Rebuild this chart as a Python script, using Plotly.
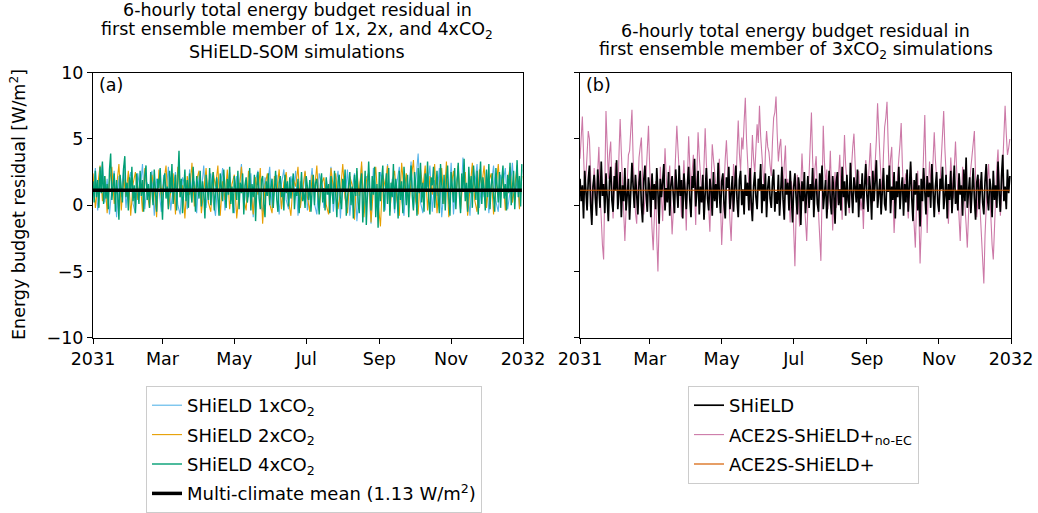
import pandas as pd
import plotly.graph_objects as go

# ---------------- data ----------------
# 6-hourly residuals, shown here on daily (green, black, pink) and 2-day (blue, orange) sampling [W/m2]
shield_4xco2 = [
    1.8, 0.2, 2.6, 0.6, 1.9, -0.2, 2.9, 0.9, 3.3, 0.1,
    2.2, 0.5, 1.6, -0.3, 2.7, 3.9, 0.4, 1.2, 2.4, -0.5,
    1.9, 0.8, -1.1, 2.3, 1.4, 0.2, 2.8, 3.7, 0.6, 1.7,
    -0.4, 2.1, 1.0, 2.9, 0.3, 1.5, -0.6, 2.4, 1.2, 0.1,
    2.6, 0.7, 1.9, -0.5, 2.2, 3.0, 0.4, 1.6, -0.2, 2.5,
    1.1, 0.0, 2.7, 0.8, -0.5, 2.0, 1.3, 2.8, 0.2, -1.1,
    1.8, 2.4, 0.5, 1.4, -0.3, 2.6, 0.9, 3.1, 0.1, 1.7,
    2.3, -0.4, 1.5, 4.1, 0.6, 2.0, -0.6, 1.2, 2.7, 0.3,
    1.9, -0.2, 2.4, 1.0, 0.2, 2.9, 0.7, -0.5, 2.2, 1.4,
    0.5, 2.6, -0.1, 1.8, 0.9, -1.0, 2.3, 1.2, 0.4, 2.8,
    0.0, 1.6, 2.5, -0.4, 1.3, 2.1, 0.6, -0.8, 2.4, 1.0,
    0.3, 2.7, 1.5, -0.2, 2.0, 0.8, 2.9, 0.1, 1.4, -0.6,
    2.2, 1.1, 0.4, 2.6, -0.3, 1.7, 0.9, 2.4, -0.7, 1.5,
    2.1, 0.2, 1.0, 2.8, -0.4, 1.6, 0.6, 2.3, -1.2, 1.2,
    2.5, 0.5, -0.3, 1.9, 2.2, 0.1, -0.9, 1.8, 0.7, 2.4,
    0.0, 1.4, 2.0, -0.2, 1.1, 2.6, 0.4, -0.5, 1.7, 2.2,
    0.6, 1.3, -0.4, 2.3, 0.9, 1.8, -0.1, 2.1, 0.5, 1.5,
    2.4, -0.3, 1.2, 0.7, 2.0, -0.6, 1.6, 2.5, 0.3, 1.0,
    -0.2, 2.2, 1.4, 0.4, 1.9, -0.5, 1.1, 2.3, 0.0, 1.7,
    2.0, 0.6, -0.7, 1.5, 2.4, 0.2, 1.3, -0.4, 2.1, 0.8,
    1.6, -0.6, 2.2, 0.9, 0.1, 2.6, 1.2, -0.9, 1.8, 2.3,
    0.4, -0.3, 2.0, 1.1, 2.7, -0.8, 0.6, 1.9, 2.5, 0.0,
    1.4, -1.0, 2.3, 0.7, 2.8, 0.2, -0.6, 1.7, 2.4, -1.3,
    1.0, 2.6, -1.5, 0.5, 3.3, 1.2, -0.4, 2.2, 0.8, 2.9,
    -0.9, 1.6, -1.7, 2.5, 0.3, 1.9, 3.0, -0.5, 1.3, 2.4,
    0.1, 2.8, -0.8, 1.7, 0.6, 3.1, -0.3, 2.0, 1.1, -1.0,
    2.6, 0.4, 1.8, -0.6, 2.9, 1.3, 0.0, 2.3, -0.9, 1.6,
    3.0, 0.7, -0.4, 2.5, 1.4, -0.8, 2.8, 0.9, 3.2, 0.2,
    1.7, -0.5, 2.4, 1.1, 3.3, 0.3, -0.7, 2.1, 1.5, 2.9,
    -0.2, 1.2, 2.6, 0.5, -0.6, 3.1, 1.8, 0.1, 2.3, -0.4,
    1.9, 3.0, 0.6, -0.8, 2.5, 1.3, 0.2, 2.8, -0.3, 1.6,
    3.2, 0.8, -0.6, 2.4, 1.0, 3.5, 0.3, 1.7, -0.5, 2.9,
    0.9, 2.2, -0.2, 3.0, 1.4, 0.4, 2.6, -0.7, 1.8, 3.3,
    0.1, 2.1, 1.2, -0.4, 2.7, 0.6, 3.1, -0.3, 1.5, 2.4,
    0.7, -0.5, 2.8, 1.3, 0.2, 2.5, -0.2, 1.9, 3.0, 0.5,
    1.6, -0.4, 2.3, 0.9, 3.2, 0.0, 1.4, 2.6, -0.3, 1.8,
    3.4, 0.6, 2.2, -0.1, 3.1,
]

shield_2xco2 = [
    2.4, -0.2, 1.5, 3.0, 0.3, 2.2, -0.6, 1.8, 2.9, 0.1,
    1.4, 3.1, -0.4, 2.0, 0.7, 2.6, -0.8, 1.6, 2.5, 0.4,
    1.9, -0.5, 2.8, 0.9, -0.2, 2.3, 1.2, -0.9, 2.7, 0.5,
    1.7, 3.0, -0.3, 1.3, 2.4, -0.7, 2.9, 0.6, 1.5, -1.0,
    2.2, 0.8, 3.2, -0.1, 1.9, 2.6, -0.6, 1.1, 2.8, 0.2,
    -0.5, 2.5, 1.4, 3.0, -0.8, 1.8, 0.4, 2.7, -0.3, 1.6,
    2.3, -1.0, 1.2, 2.9, 0.5, -0.4, 2.6, 1.3, -0.7, 2.1,
    0.8, 2.8, -1.4, 1.5, 2.4, 0.1, -0.6, 2.2, 1.0, 2.7,
    -0.3, 1.7, 2.5, 0.3, -0.8, 2.0, 1.4, 2.9, -0.2, 1.1,
    2.6, 0.6, -0.5, 2.3, 1.2, 3.0, -0.4, 1.6, 2.1, 0.0,
    -0.7, 2.8, 1.3, 2.4, -0.3, 1.0, 3.1, 0.5, -0.6, 2.2,
    1.5, -1.1, 2.6, 0.7, 3.3, -0.9, 1.8, 2.5, -1.3, 1.2,
    2.9, 0.2, -1.6, 2.3, 1.4, 3.0, -0.5, 1.7, 2.6, 0.4,
    -0.8, 3.2, 1.1, 2.4, -0.2, 1.9, 3.4, 0.3, -0.7, 2.7,
    1.3, 3.0, -0.4, 2.2, 0.8, 3.1, -0.6, 1.6, 2.8, 0.1,
    3.3, -0.9, 1.4, 2.6, 0.6, 3.0, -0.3, 1.9, 2.5, -0.8,
    1.2, 3.2, 0.4, -0.5, 2.7, 1.5, 3.0, -0.2, 1.8, 2.4,
    -0.7, 1.0, 3.1, 0.5, 2.3, -0.4, 1.7, 2.9, 0.2, 1.4,
    3.0, -0.3, 2.2,
]

shield_1xco2 = [
    0.9, 2.8, -0.4, 1.6, 3.2, 0.2, 2.0, -0.7, 1.3, 2.6,
    -0.9, 2.2, 0.6, 3.0, -0.2, 1.8, 2.5, 0.1, -0.6, 2.4,
    1.1, 3.1, -0.3, 1.7, 0.4, 2.6, -0.8, 2.0, 1.2, -0.5,
    2.3, 0.8, 2.9, -0.4, 1.4, 2.5, 0.0, -0.7, 2.1, 1.5,
    -0.3, 2.7, 0.9, 1.8, -0.6, 2.3, 1.0, 3.0, -0.2, 1.6,
    2.4, 0.3, -0.8, 2.0, 1.3, 2.8, -0.4, 1.1, 2.5, 0.5,
    -0.6, 2.2, 1.4, 3.1, -0.3, 1.7, 0.6, 2.4, -0.9, 1.9,
    2.6, 0.2, -0.5, 2.1, 1.5, 2.9, -0.2, 1.2, 2.3, -0.7,
    1.6, 2.7, 0.4, -0.3, 2.2, 1.0, 2.6, -0.8, 1.8, 0.7,
    2.5, -0.4, 1.3, 2.8, 0.1, -0.7, 2.4, 1.6, -0.2, 2.0,
    0.8, 2.9, -0.5, 1.4, 2.6, -1.0, 1.9, 0.5, 2.7, -0.8,
    1.2, 2.4, -1.2, 0.9, 3.0, -0.6, 2.2, 1.5, -1.4, 2.8,
    0.6, -0.9, 2.5, 1.8, -0.4, 3.1, 0.3, 2.0, -0.6, 1.7,
    2.9, 0.4, -0.8, 2.3, 1.1, 3.3, -0.3, 1.6, 3.9, 0.2,
    -0.6, 2.6, 1.4, 3.0, -0.5, 1.9, 0.7, 2.8, -0.9, 1.3,
    2.5, 0.1, 3.2, -0.7, 1.7, 2.4, -0.4, 3.6, 0.5, 1.2,
    -0.8, 2.9, 1.5, 3.1, -0.2, 1.8, 0.6, 2.6, -0.6, 1.4,
    3.0, 0.3, -0.5, 2.3, 1.6, 2.8, -0.3, 1.0, 3.2, 0.4,
    1.9, -0.2, 2.7,
]

multi_climate_mean = 1.13

shield_3xco2 = [
    2.0, 0.3, 1.5, -1.0, 2.6, 0.8, -0.4, 1.9, 3.0, 0.1,
    -1.5, 1.4, 2.3, 0.5, -0.8, 2.7, 1.0, -0.2, 3.3, 0.7,
    1.6, -0.6, 2.4, 0.2, -1.2, 1.8, 2.9, 0.4, -0.5, 2.2,
    1.1, 3.4, -0.3, 0.9, 2.5, -0.9, 1.5, 0.3, 2.8, -0.4,
    1.2, 2.0, -1.1, 0.6, 3.2, 1.4, -0.2, 2.3, 0.5, -0.7,
    1.7, 2.6, 0.0, -1.3, 1.9, 3.0, 0.8, -0.5, 2.1, 1.2,
    -0.9, 2.4, 0.4, 1.6, -0.3, 2.8, 1.0, -1.4, 2.0, 0.6,
    1.8, 3.1, -0.4, 1.3, 0.2, 2.5, -0.8, 1.5, 2.2, 0.3,
    -0.6, 2.7, 1.1, -0.2, 3.0, 0.7, 1.9, -1.0, 2.4, 0.9,
    -0.3, 1.6, 2.9, 0.4, -0.9, 2.2, 1.3, 3.5, -0.1, 1.0,
    2.6, -0.7, 1.4, 0.2, 2.3, -1.1, 1.7, 2.8, 0.5, -0.4,
    2.0, 1.2, -0.8, 2.5, 0.3, 1.6, -0.2, 3.2, 0.9, -0.6,
    1.8, 2.4, 0.1, -1.0, 2.1, 1.3, 2.9, -0.3, 0.8, 2.2,
    -0.5, 1.5, 3.0, 0.4, -0.9, 1.9, 2.6, 0.0, 1.2, -0.7,
    2.3, 0.7, 1.7, -0.4, 2.8, 0.2, -1.2, 1.4, 2.5, 0.6,
    -0.3, 2.0, 1.1, 3.1, -0.6, 1.6, 0.3, 2.4, -0.9, 1.3,
    2.2, 0.5, -0.2, 1.8, 2.7, -0.5, 1.0, 0.1, 2.3, -0.8,
    1.5, 2.9, 0.4, -1.1, 2.0, 0.8, 1.7, -0.4, 2.6, 0.2,
    -1.3, 1.4, 2.4, 0.6, -0.7, 2.1, 1.2, -1.5, 1.8, 0.3,
    2.5, -0.6, 1.0, 2.2, -0.2, 1.6, 0.4, 2.8, -0.9, 1.3,
    2.0, 0.1, -0.5, 2.4, 1.1, 3.0, -0.3, 0.7, 1.9, -1.0,
    1.5, 2.6, 0.3, -0.7, 2.2, 0.9, -1.4, 1.7, 2.5, 0.0,
    1.2, -0.4, 2.9, 0.6, 1.8, -0.8, 2.3, 0.4, -0.2, 3.2,
    1.0, -0.6, 2.1, 1.4, 0.2, 2.7, -0.9, 1.6, 0.5, 2.4,
    -0.3, 1.9, 3.1, 0.7, -0.5, 2.2, 1.1, -1.1, 2.6, 0.3,
    1.5, 3.4, -0.2, 0.9, 2.0, -0.7, 1.7, 2.8, 0.1, -0.4,
    2.3, 1.0, 3.0, -0.6, 1.4, 0.4, 2.5, -1.0, 1.8, 0.6,
    2.9, -0.3, 1.2, 2.1, -0.8, 1.6, 0.2, 2.7, -0.5, 1.1,
    3.3, 0.5, -1.2, 1.9, 0.8, 2.4, -0.4, 1.5, -1.6, 2.0,
    0.3, 2.8, 1.0, -0.7, 2.2, 0.6, 1.7, -0.2, 3.1, 0.9,
    -0.9, 1.4, 2.5, 0.2, -0.5, 2.0, 1.2, 2.9, -0.3, 0.7,
    2.3, -1.0, 1.6, 0.4, 2.6, -0.6, 1.9, 3.0, 0.1, 1.1,
    -0.4, 2.4, 0.8, 1.5, -0.8, 2.7, 0.3, 3.6, -0.2, 1.3,
    2.1, -0.6, 1.0, 2.8, 0.5, -1.1, 1.7, 2.3, -0.3, 0.9,
    2.5, 0.2, -0.7, 1.8, 3.1, 0.6, -0.4, 2.0, 1.2, -0.9,
    2.6, 0.4, 1.5, -0.2, 3.3, 0.8, -0.5, 2.2, 3.8, 0.3,
    1.4, -0.3, 2.7, 0.9, 2.2,
]

ace2s_no_ec = [
    3.5, 5.2, 6.7, 3.9, 1.2, 2.1, 4.0, 5.6, 5.0, 2.3, -0.5, 0.9, 2.8, 1.4, 0.3, 2.6, 4.4, 1.0, -1.8, -3.0,
    -4.1, 2.2, 7.1, 4.6, 2.0, 3.9, 4.8, 1.7, -1.0, 1.5, 3.2, 2.2, 0.6, 3.8, 6.5, 4.0, 1.5, -0.8, -2.7, -0.4,
    2.4, 3.8, 4.1, 5.3, 7.2, 3.5, 0.8, -0.6, -1.4, 1.3, 3.6, 4.4, 5.1, 2.0, -0.7, 0.5, 2.2, 4.5, 6.0, 2.9,
    0.1, -1.8, -3.4, -0.9, 1.8, -2.4, -5.0, -1.3, 2.9, 0.7, -1.2, 1.6, 4.3, 2.2, 0.5, 1.9, 3.0, 0.2, -2.2, -0.5,
    1.6, 3.9, 6.0, 4.2, 2.5, 0.6, -0.9, 1.4, 3.4, 0.9, -1.9, 2.0, 5.2, 3.0, 1.0, 2.5, 3.8, 1.1, -1.5, 2.4,
    5.5, 3.7, 2.1, 1.0, 0.2, 3.1, 5.8, 3.2, 1.4, -0.5, -2.0, 1.5, 4.6, 3.5, 2.7, 1.6, 0.4, 2.0, 3.5, 0.1,
    -3.0, -0.8, 1.9, 3.5, 4.9, 2.6, 0.7, -1.2, -2.7, 0.5, 3.1, 2.0, 1.3, 4.0, 6.4, 3.9, 2.6, 5.1, 4.2, 6.3,
    8.1, 5.0, 3.0, 1.1, -0.4, 2.6, 5.3, 3.5, 2.4, 4.3, 6.1, 4.7, 7.5, 5.2, 3.7, 2.2, 1.2, 3.9, 5.6, 4.4,
    4.0, 3.0, 2.2, 4.8, 6.6, 7.0, 8.2, 5.4, 3.3, 4.4, 5.0, 2.8, 1.0, 3.1, 4.5, 0.9, 2.0, 0.6, -1.3, 1.8,
    0.9, -1.9, -4.6, -0.8, 2.3, 0.2, -1.6, 1.4, 3.9, 1.8, 0.4, -0.9, -2.7, 0.0, 2.1, 4.3, 7.0, 3.5, 1.1, 2.8,
    3.7, 1.2, -0.8, -2.5, -4.2, 0.9, 6.0, 3.3, 1.6, 2.7, -0.3, 1.8, 4.1, 1.0, -1.9, 0.8, 2.5, -0.2, 0.6, 2.3,
    3.8, 1.0, -1.1, 2.4, 5.3, 3.0, 1.7, 0.3, -0.6, 1.5, 3.2, 4.4, 5.4, 2.7, 0.9, 1.9, 2.6, 0.8, -0.4, 0.6,
    -1.8, 1.2, 3.4, 2.3, 1.5, 3.1, 4.7, 2.0, 0.2, 1.4, 2.9, 5.0, 7.7, 4.9, 3.6, 1.9, 0.8, 3.8, 5.9, 6.6,
    7.8, 4.6, 2.0, 3.5, 4.4, 0.8, -2.1, -0.3, 1.3, 2.7, 3.5, 4.6, 6.2, 3.1, 0.7, 1.8, 2.4, 0.5, -1.0, 1.2,
    3.0, 1.9, 0.4, -1.3, -3.2, 0.1, 2.6, -0.7, -4.4, -1.6, 1.1, 3.9, 6.8, 2.4, -2.1, 0.9, 3.3, 2.0, 0.9, 3.4,
    5.5, 3.4, 1.8, 0.2, -0.7, 1.8, 4.0, 5.5, 7.1, 4.3, 2.3, 0.6, -1.4, 1.2, 3.6, 2.0, 0.5, 2.9, 4.8, 2.6,
    1.2, -0.9, -2.7, 0.4, 2.9, 1.5, 0.3, -1.5, -3.2, -0.6, 1.7, 2.8, 3.9, 4.7, 5.6, 2.1, -0.9, 0.4, 2.0, -0.6,
    -2.4, -3.8, -5.9, -2.3, 0.6, 1.9, 3.1, 0.7, -1.5, -3.0, -4.1, -1.2, 1.4, 2.9, 4.2, 1.6, -0.8, 0.8, 2.7, 4.6,
    7.5, 5.4, 3.8, 4.3, 5.0,
]

ace2s_plus_level = 1.13

month_ticks = ["2031-01-01", "2031-03-01", "2031-05-01", "2031-07-01",
               "2031-09-01", "2031-11-01", "2032-01-01"]
month_labels = ["2031", "Mar", "May", "Jul", "Sep", "Nov", "2032"]

daily = pd.date_range("2031-01-01", periods=len(shield_4xco2), freq="D")
two_day = pd.date_range("2031-01-01", periods=len(shield_2xco2), freq="2D")
year_span = [daily[0], daily[-1]]

C_BLUE, C_ORANGE, C_GREEN = "#56B4E9", "#E69F00", "#009E73"
C_PINK, C_VERM = "#CC79A7", "#D55E00"
FONT = "DejaVu Sans"
FS = 17.5

fig = go.Figure()

# ---- panel (a) ----
fig.add_trace(go.Scatter(x=two_day, y=shield_1xco2, mode="lines", line=dict(color=C_BLUE, width=1.1),
                         name="SHiELD 1xCO<sub>2</sub>", legend="legend", legendgroup="a1",
                         legendrank=1, xaxis="x", yaxis="y"))
fig.add_trace(go.Scatter(x=two_day, y=shield_2xco2, mode="lines", line=dict(color=C_ORANGE, width=1.1),
                         name="SHiELD 2xCO<sub>2</sub>", legend="legend", legendgroup="a2",
                         legendrank=2, xaxis="x", yaxis="y"))
fig.add_trace(go.Scatter(x=daily, y=shield_4xco2, mode="lines", line=dict(color=C_GREEN, width=1.4),
                         name="SHiELD 4xCO<sub>2</sub>", legend="legend", legendgroup="a3",
                         legendrank=3, xaxis="x", yaxis="y"))
fig.add_trace(go.Scatter(x=year_span, y=[multi_climate_mean] * 2, mode="lines",
                         line=dict(color="black", width=3.5),
                         name=f"Multi-climate mean ({multi_climate_mean:.2f} W/m<sup>2</sup>)",
                         legend="legend", legendgroup="a4", legendrank=4, xaxis="x", yaxis="y"))

# ---- panel (b) ----
fig.add_trace(go.Scatter(x=daily, y=ace2s_no_ec, mode="lines", line=dict(color=C_PINK, width=1.1),
                         name="ACE2S-SHiELD+<sub>no-EC</sub>", legend="legend2", legendgroup="b2",
                         legendrank=2, xaxis="x2", yaxis="y2"))
fig.add_trace(go.Scatter(x=daily, y=shield_3xco2, mode="lines", line=dict(color="black", width=1.7),
                         name="SHiELD", legend="legend2", legendgroup="b1",
                         legendrank=1, xaxis="x2", yaxis="y2"))
fig.add_trace(go.Scatter(x=year_span, y=[ace2s_plus_level] * 2, mode="lines",
                         line=dict(color=C_VERM, width=1.2),
                         name="ACE2S-SHiELD+", legend="legend2", legendgroup="b3",
                         legendrank=3, xaxis="x2", yaxis="y2"))

W, H = 1038, 513
def px(x):
    return x / W
def py(y):
    return 1 - y / H

x_common = dict(type="date", range=["2031-01-01", "2032-01-01"], tickvals=month_ticks,
                ticktext=month_labels, ticks="outside", ticklen=5, tickwidth=1, tickcolor="black",
                showgrid=False, zeroline=False, showline=True, mirror=True, linecolor="black",
                linewidth=1, automargin=False,
                tickfont=dict(family=FONT, size=FS, color="black"))
y_common = dict(range=[-10, 10], tickvals=[-10, -5, 0, 5, 10], ticks="outside", ticklen=5,
                tickwidth=1, tickcolor="black", showgrid=False, zeroline=False, showline=True,
                mirror=True, linecolor="black", linewidth=1, automargin=False,
                tickfont=dict(family=FONT, size=FS, color="black"),
                domain=[py(337.7), py(72.7)])

legend_common = dict(bgcolor="white", bordercolor="#cccccc", borderwidth=1,
                     font=dict(family=FONT, size=18, color="black"),
                     tracegroupgap=3, xanchor="left", yanchor="top", traceorder="grouped")

fig.update_layout(
    width=W, height=H, margin=dict(l=0, r=0, t=0, b=0, autoexpand=False),
    paper_bgcolor="white", plot_bgcolor="white", showlegend=True,
    xaxis=dict(x_common, domain=[px(93), px(523)], anchor="y"),
    yaxis=dict(y_common, anchor="x"),
    xaxis2=dict(x_common, domain=[px(580), px(1011)], anchor="y2"),
    yaxis2=dict(y_common, anchor="x2", showticklabels=False),
    legend=dict(legend_common, x=px(146), y=py(386)),
    legend2=dict(legend_common, x=px(688), y=py(386)),
    font=dict(family=FONT, size=FS, color="black"),
)

ann = []
def text(x, y, s, **kw):
    kw.setdefault("xanchor", "center")
    ann.append(dict(xref="paper", yref="paper", x=px(x), y=py(y), text=s, showarrow=False,
                    yanchor="middle", font=dict(family=FONT, size=FS, color="black"), **kw))

# titles
text(297, 10, "6-hourly total energy budget residual in")
text(297, 31, "first ensemble member of 1x, 2x, and 4xCO<sub>2</sub>")
text(297, 52, "SHiELD-SOM simulations")
text(795.5, 31, "6-hourly total energy budget residual in")
text(795.5, 51, "first ensemble member of 3xCO<sub>2</sub> simulations")
# panel labels
text(97, 85, "(a)", xanchor="left")
text(584, 85, "(b)", xanchor="left")
# y-axis title
text(18, 205, "Energy budget residual [W/m<sup>2</sup>]", textangle=-90)

fig.update_layout(annotations=ann)
fig.write_html("out.html")
